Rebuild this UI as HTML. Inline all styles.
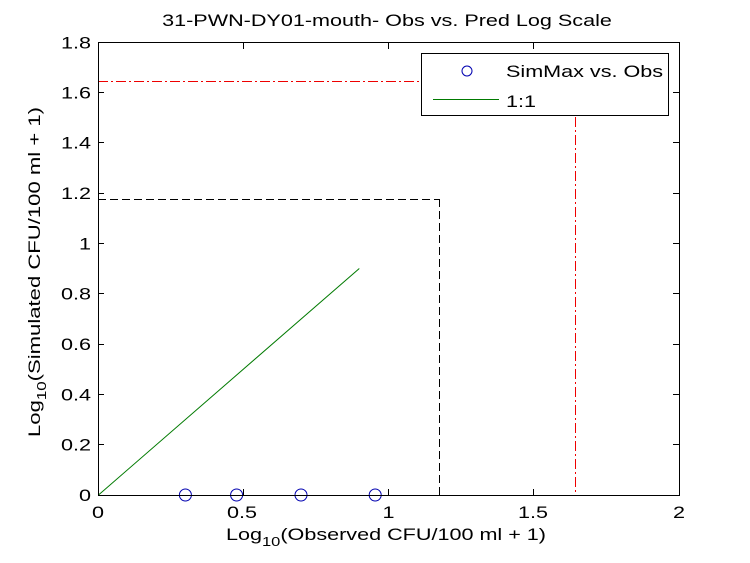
<!DOCTYPE html>
<html>
<head>
<meta charset="utf-8">
<style>
  html, body { margin: 0; padding: 0; background: #fff; }
  svg { display: block; }
  text { font-family: "Liberation Sans", Arial, sans-serif; fill: #000; }
</style>
</head>
<body>
<svg width="750" height="563" viewBox="0 0 750 563" xmlns="http://www.w3.org/2000/svg">
  <rect x="0" y="0" width="750" height="563" fill="#fff"/>

  <!-- red dash-dot lines -->
  <line x1="98" y1="81.5" x2="575" y2="81.5" stroke="#ee0000" stroke-width="1" stroke-dasharray="10 3 2 3"/>
  <line x1="575.5" y1="81" x2="575.5" y2="495" stroke="#ee0000" stroke-width="1" stroke-dasharray="10 3 2 3"/>

  <!-- black dashed lines -->
  <line x1="98" y1="199.5" x2="439" y2="199.5" stroke="#000" stroke-width="1" stroke-dasharray="8 4"/>
  <line x1="439.5" y1="199" x2="439.5" y2="495" stroke="#000" stroke-width="1" stroke-dasharray="8 4"/>

  <!-- 1:1 line -->
  <line x1="98.5" y1="495" x2="359.3" y2="268.5" stroke="#007a00" stroke-width="1"/>

  <!-- circles -->
  <g fill="none" stroke="#0000b0" stroke-width="1">
    <circle cx="185.4" cy="495" r="6"/>
    <circle cx="236.6" cy="495" r="6"/>
    <circle cx="301" cy="495" r="6"/>
    <circle cx="375.2" cy="495" r="6"/>
  </g>

  <!-- axes box -->
  <rect x="98.5" y="42.5" width="581" height="453" fill="none" stroke="#000" stroke-width="1" shape-rendering="crispEdges"/>

  <!-- ticks -->
  <g stroke="#000" stroke-width="1" shape-rendering="crispEdges">
    <line x1="243.5" y1="495" x2="243.5" y2="489"/>
    <line x1="388.5" y1="495" x2="388.5" y2="489"/>
    <line x1="533.5" y1="495" x2="533.5" y2="489"/>
    <line x1="243.5" y1="43" x2="243.5" y2="49"/>
    <line x1="388.5" y1="43" x2="388.5" y2="49"/>
    <line x1="533.5" y1="43" x2="533.5" y2="49"/>
    <line x1="98" y1="444.5" x2="104" y2="444.5"/>
    <line x1="98" y1="394.5" x2="104" y2="394.5"/>
    <line x1="98" y1="344.5" x2="104" y2="344.5"/>
    <line x1="98" y1="293.5" x2="104" y2="293.5"/>
    <line x1="98" y1="243.5" x2="104" y2="243.5"/>
    <line x1="98" y1="193.5" x2="104" y2="193.5"/>
    <line x1="98" y1="142.5" x2="104" y2="142.5"/>
    <line x1="98" y1="92.5" x2="104" y2="92.5"/>
    <line x1="679" y1="444.5" x2="673" y2="444.5"/>
    <line x1="679" y1="394.5" x2="673" y2="394.5"/>
    <line x1="679" y1="344.5" x2="673" y2="344.5"/>
    <line x1="679" y1="293.5" x2="673" y2="293.5"/>
    <line x1="679" y1="243.5" x2="673" y2="243.5"/>
    <line x1="679" y1="193.5" x2="673" y2="193.5"/>
    <line x1="679" y1="142.5" x2="673" y2="142.5"/>
    <line x1="679" y1="92.5" x2="673" y2="92.5"/>
  </g>

  <!-- x tick labels -->
  <g font-size="17" text-anchor="middle">
    <text transform="translate(98,518) scale(1.27,1)">0</text>
    <text transform="translate(242,518) scale(1.27,1)">0.5</text>
    <text transform="translate(388.5,518) scale(1.27,1)">1</text>
    <text transform="translate(533,518) scale(1.27,1)">1.5</text>
    <text transform="translate(679,518) scale(1.27,1)">2</text>
  </g>

  <!-- y tick labels -->
  <g font-size="17" text-anchor="end">
    <text transform="translate(91,501) scale(1.27,1)">0</text>
    <text transform="translate(91,450.7) scale(1.27,1)">0.2</text>
    <text transform="translate(91,400.3) scale(1.27,1)">0.4</text>
    <text transform="translate(91,350) scale(1.27,1)">0.6</text>
    <text transform="translate(91,299.7) scale(1.27,1)">0.8</text>
    <text transform="translate(91,249.3) scale(1.27,1)">1</text>
    <text transform="translate(91,199) scale(1.27,1)">1.2</text>
    <text transform="translate(91,148.7) scale(1.27,1)">1.4</text>
    <text transform="translate(91,98.3) scale(1.27,1)">1.6</text>
    <text transform="translate(91,48.3) scale(1.27,1)">1.8</text>
  </g>

  <!-- title -->
  <text transform="translate(387,26) scale(1.27,1)" font-size="17" text-anchor="middle">31-PWN-DY01-mouth- Obs vs. Pred Log Scale</text>

  <!-- x label -->
  <text transform="translate(386,540) scale(1.27,1)" font-size="17" text-anchor="middle">Log<tspan font-size="13" dy="6">10</tspan><tspan dy="-6">(Observed CFU/100 ml + 1)</tspan></text>

  <!-- y label -->
  <text transform="translate(40,272) rotate(-90) scale(1.3,1)" font-size="17" text-anchor="middle">Log<tspan font-size="13" dy="6">10</tspan><tspan dy="-6">(Simulated CFU/100 ml + 1)</tspan></text>

  <!-- legend -->
  <rect x="421.5" y="53.5" width="247" height="62" fill="#fff" stroke="#000" stroke-width="1" shape-rendering="crispEdges"/>
  <circle cx="467" cy="71" r="5" fill="none" stroke="#0000b0" stroke-width="1"/>
  <text transform="translate(506,77) scale(1.27,1)" font-size="17">SimMax vs. Obs</text>
  <line x1="433" y1="99.5" x2="499" y2="99.5" stroke="#007a00" stroke-width="1"/>
  <text transform="translate(506,107) scale(1.27,1)" font-size="17">1:1</text>
</svg>
</body>
</html>
